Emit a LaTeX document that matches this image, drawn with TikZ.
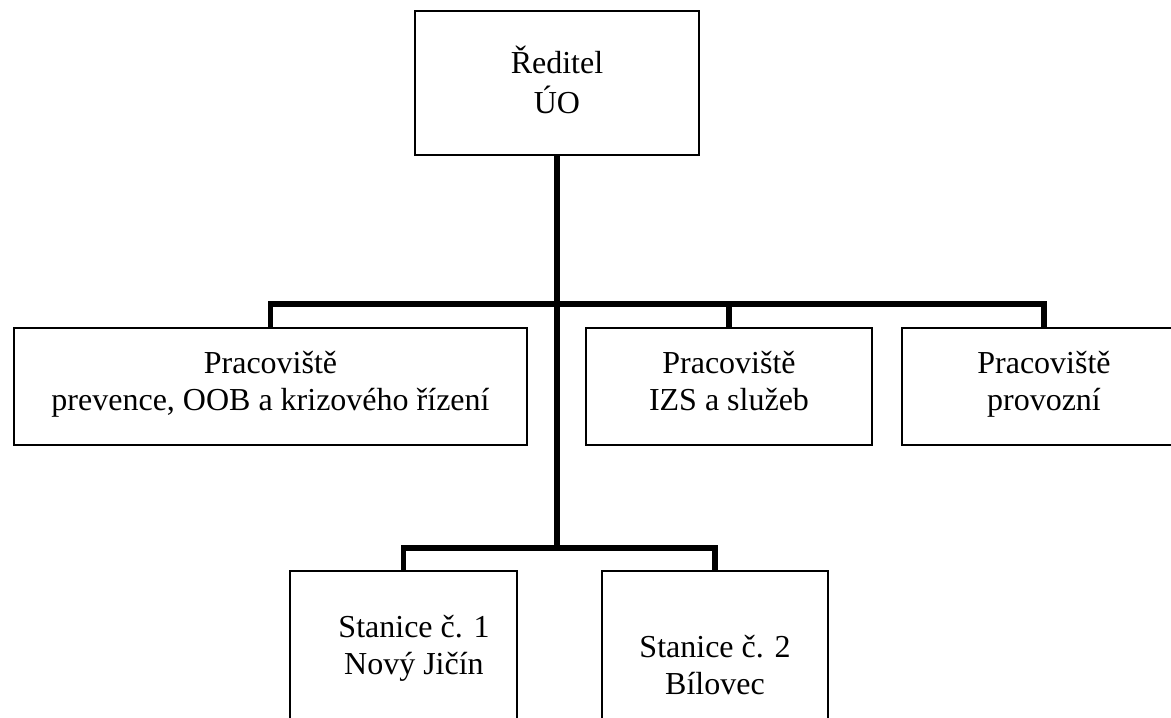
\documentclass[tikz,border=0pt]{standalone}
\usepackage{fontspec}
\setmainfont{Liberation Serif}
\begin{document}
\begin{tikzpicture}[x=1pt,y=-1pt,
  unit/.style={draw=black,line width=2.2pt,rectangle,inner sep=0pt,fill=none},
  caption/.style={inner sep=0pt,align=center,font=\fontsize{32}{37}\selectfont},
  conn/.style={draw=black,line width=5.6pt,line join=miter}]
\path[use as bounding box,clip] (0,0) rectangle (1171,718);
\fill[white] (0,0) rectangle (1171,718);

% boxes of the organisation chart
\node[unit,minimum width=284pt,minimum height=144pt] (dir) at (557,83) {};
\node[unit,minimum width=513pt,minimum height=117pt] (prev) at (270.5,386.5) {};
\node[unit,minimum width=286pt,minimum height=117pt] (izs) at (729,386.5) {};
\node[unit,minimum width=284pt,minimum height=117pt] (prov) at (1044,386.5) {};
\node[unit,minimum width=227pt,minimum height=189pt] (st1) at (403.5,665.5) {};
\node[unit,minimum width=226pt,minimum height=189pt] (st2) at (715,665.5) {};

% texts
\node[caption] (tdir) at (557,85.1) {\strut Ředitel\\\strut ÚO};
\node[caption] (tprev) at (270.5,384.1) {\strut Pracoviště\\\strut prevence, OOB a krizového řízení};
\node[caption] (tizs) at (729,384.1) {\strut Pracoviště\\\strut IZS a služeb};
\node[caption] (tprov) at (1044,385) {\strut Pracoviště\\\strut provozní};
\node[caption] (tst1) at (414,649) {\strut Stanice č. 1\\\strut Nový Jičín};
\node[caption] (tst2) at (715,669) {\strut Stanice č. 2\\\strut Bílovec};

% connector junctions
\coordinate (bar1) at (557,304);
\coordinate (bar2) at (557,548);

% connectors
\draw[conn] (dir.south) -- (bar2);
\draw[conn] (prev.north) |- (bar1) -| (prov.north);
\draw[conn] (izs.north) -- (izs.north |- bar1);
\draw[conn] (st1.north) |- (bar2) -| (st2.north);
\end{tikzpicture}
\end{document}
